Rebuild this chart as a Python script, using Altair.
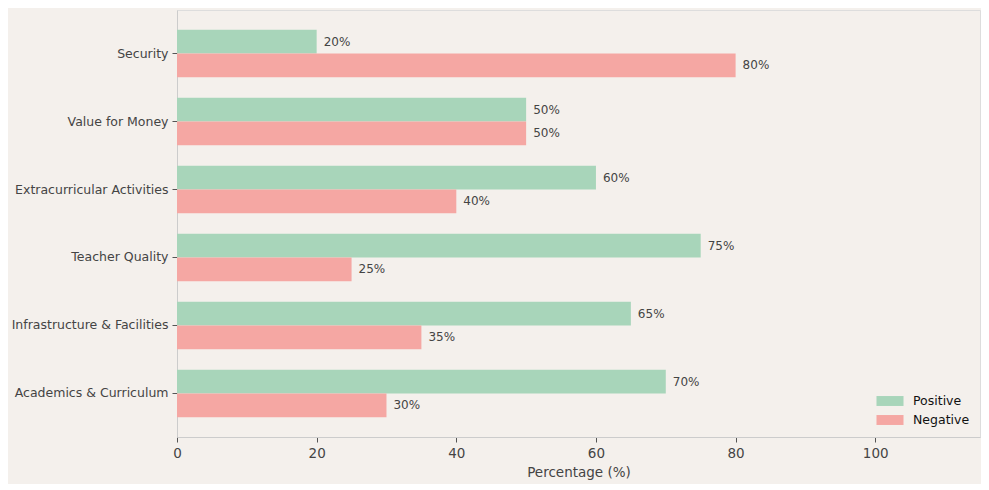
import altair as alt
import pandas as pd

categories = ["Security", "Value for Money", "Extracurricular Activities",
              "Teacher Quality", "Infrastructure & Facilities", "Academics & Curriculum"]
positive = [20, 50, 60, 75, 65, 70]
negative = [80, 50, 40, 25, 35, 30]
sentiments = ["Positive", "Negative"]
colors = ["#a8d5ba", "#f5a7a3"]
x_ticks = [0, 20, 40, 60, 80, 100]

rows = []
for c, p, n in zip(categories, positive, negative):
    rows.append({"Aspect": c, "Sentiment": "Positive", "Value": p})
    rows.append({"Aspect": c, "Sentiment": "Negative", "Value": n})
df = pd.DataFrame(rows)
df["Label"] = df["Value"].astype(str) + "%"

y = alt.Y("Aspect:N", sort=categories,
          scale=alt.Scale(paddingInner=0.3, paddingOuter=0.29),
          axis=alt.Axis(title=None, labelFontSize=12.5, labelColor="#444444",
                        tickColor="#555555", domainColor="#cccccc", tickSize=5,
                        labelPadding=4, labelLimit=300))
yoff = alt.YOffset("Sentiment:N", sort=sentiments,
                   scale=alt.Scale(paddingInner=0, paddingOuter=0))
x = alt.X("Value:Q", scale=alt.Scale(domain=[0, 115], nice=False),
          axis=alt.Axis(values=x_ticks, title="Percentage (%)", grid=False,
                        labelFlush=False,
                        labelFontSize=13.5, labelColor="#444444", titleFontSize=13.5,
                        titleColor="#444444", titleFontWeight="normal",
                        tickColor="#555555", domainColor="#cccccc", tickSize=5,
                        labelPadding=4, titlePadding=6))

bars = alt.Chart(df).mark_bar().encode(
    x=x, y=y, yOffset=yoff,
    color=alt.Color("Sentiment:N", sort=sentiments,
                    scale=alt.Scale(domain=sentiments, range=colors),
                    legend=alt.Legend(title=None, orient="bottom-right",
                                      symbolType="M-1.93,-0.71L1.93,-0.71L1.93,0.71L-1.93,0.71Z",
                                      symbolSize=196, symbolStrokeWidth=0,
                                      labelOffset=16, labelFontSize=12.5,
                                      labelColor="#111111",
                                      rowPadding=5, offset=10)),
)

labels = alt.Chart(df).mark_text(align="left", baseline="middle", dx=7,
                                 fontSize=12, color="#444444").encode(
    x="Value:Q", y=alt.Y("Aspect:N", sort=categories), yOffset=yoff, text="Label:N"
)

chart = (bars + labels).properties(
    width=803, height=427, background="#f4f0ec",
    padding={"top": 2, "left": 3, "right": 1, "bottom": 5}
).configure_view(stroke=None).configure(font="DejaVu Sans")

chart.save("out.html", embed_options={"renderer": "svg", "actions": False})
